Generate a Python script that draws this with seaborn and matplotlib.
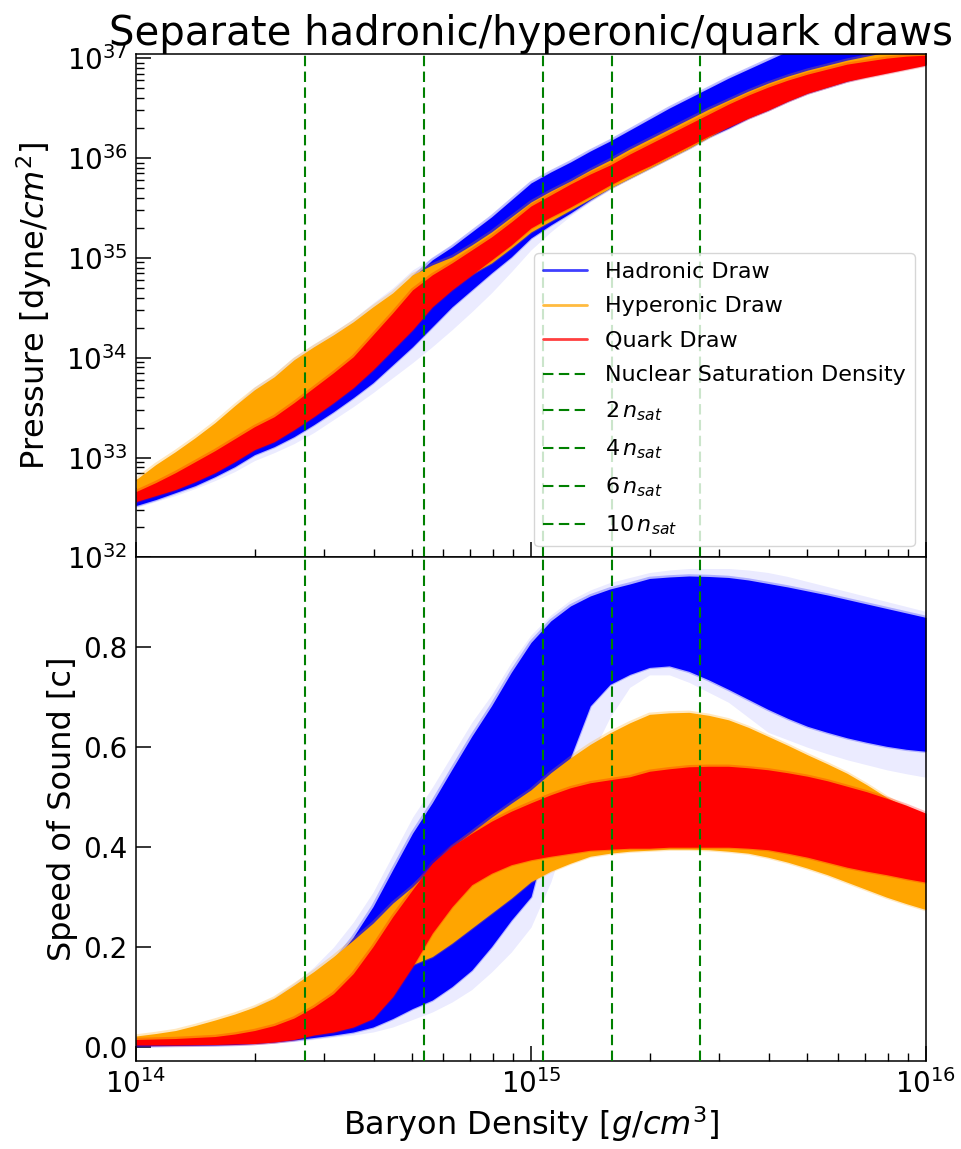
import matplotlib
matplotlib.use("Agg")
import matplotlib.pyplot as plt
from matplotlib.lines import Line2D
import numpy as np
import pandas as pd
import seaborn as sns

LOG_RHO = [14.00, 14.05, 14.10, 14.15, 14.20, 14.25, 14.30, 14.35, 14.40, 14.45,
           14.50, 14.55, 14.60, 14.65, 14.70, 14.75, 14.80, 14.85, 14.90, 14.95,
           15.00, 15.05, 15.10, 15.15, 15.20, 15.25, 15.30, 15.35, 15.40, 15.45,
           15.50, 15.55, 15.60, 15.65, 15.70, 15.75, 15.80, 15.85, 15.90, 15.95, 16.00]

# log10 pressure envelopes [dyne/cm^2]
LOGP_HADRON_HI = [32.66, 32.75, 32.85, 32.96, 33.07, 33.19, 33.31, 33.41, 33.55, 33.70,
                  33.85, 34.01, 34.23, 34.45, 34.80, 34.98, 35.11, 35.26, 35.41, 35.58,
                  35.75, 35.86, 35.96, 36.07, 36.17, 36.28, 36.39, 36.50, 36.60, 36.70,
                  36.80, 36.89, 36.98, 37.07, 37.16, 37.25, 37.33, 37.42, 37.50, 37.58, 37.65]
LOGP_HADRON_LO = [32.52, 32.58, 32.65, 32.72, 32.81, 32.91, 33.03, 33.11, 33.21, 33.33,
                  33.46, 33.60, 33.75, 33.93, 34.11, 34.31, 34.51, 34.68, 34.85, 35.01,
                  35.20, 35.33, 35.45, 35.58, 35.70, 35.80, 35.90, 36.00, 36.10, 36.21,
                  36.30, 36.40, 36.48, 36.57, 36.65, 36.71, 36.77, 36.82, 36.86, 36.90, 36.94]
LOGP_HADRON_FAINT_HI = [32.78, 32.93, 33.06, 33.20, 33.35, 33.52, 33.71, 33.84, 34.01, 34.14,
                        34.26, 34.39, 34.55, 34.70, 34.88, 35.00, 35.13, 35.27, 35.42, 35.59,
                        35.76, 35.87, 35.97, 36.08, 36.18, 36.29, 36.40, 36.51, 36.61, 36.71,
                        36.81, 36.90, 36.99, 37.08, 37.17, 37.26, 37.34, 37.43, 37.51, 37.59, 37.66]
LOGP_HADRON_FAINT_LO = [32.50, 32.56, 32.62, 32.69, 32.77, 32.86, 32.97, 33.05, 33.14, 33.25,
                        33.38, 33.51, 33.65, 33.80, 33.95, 34.11, 34.28, 34.46, 34.65, 34.86,
                        35.08, 35.26, 35.42, 35.56, 35.68, 35.80, 35.90, 36.00, 36.10, 36.21,
                        36.30, 36.40, 36.48, 36.57, 36.65, 36.71, 36.77, 36.82, 36.86, 36.90, 36.94]
LOGP_HYPERON_HI = [32.78, 32.93, 33.06, 33.20, 33.35, 33.52, 33.68, 33.81, 33.98, 34.11,
                   34.23, 34.36, 34.51, 34.65, 34.83, 34.93, 35.01, 35.13, 35.26, 35.41,
                   35.56, 35.67, 35.77, 35.88, 35.98, 36.09, 36.19, 36.29, 36.39, 36.49,
                   36.58, 36.67, 36.75, 36.82, 36.88, 36.93, 36.98, 37.02, 37.06, 37.09, 37.12]
LOGP_HYPERON_LO = [32.60, 32.66, 32.72, 32.80, 32.89, 33.00, 33.12, 33.20, 33.32, 33.45,
                   33.60, 33.75, 33.93, 34.13, 34.33, 34.55, 34.70, 34.84, 34.95, 35.10,
                   35.26, 35.37, 35.48, 35.59, 35.70, 35.80, 35.90, 36.00, 36.10, 36.21,
                   36.32, 36.41, 36.49, 36.58, 36.66, 36.72, 36.78, 36.83, 36.87, 36.91, 36.95]
LOGP_QUARK_HI = [32.66, 32.75, 32.85, 32.96, 33.07, 33.19, 33.31, 33.41, 33.55, 33.70,
                 33.85, 34.01, 34.23, 34.45, 34.68, 34.83, 34.95, 35.08, 35.21, 35.36,
                 35.52, 35.63, 35.74, 35.84, 35.93, 36.04, 36.14, 36.24, 36.34, 36.44,
                 36.54, 36.63, 36.71, 36.78, 36.84, 36.89, 36.94, 36.97, 37.00, 37.02, 37.03]
LOGP_QUARK_LO = [32.56, 32.62, 32.68, 32.76, 32.85, 32.96, 33.08, 33.16, 33.28, 33.41,
                 33.55, 33.70, 33.88, 34.08, 34.28, 34.51, 34.68, 34.83, 34.98, 35.13,
                 35.30, 35.41, 35.51, 35.62, 35.73, 35.83, 35.92, 36.02, 36.12, 36.22,
                 36.31, 36.40, 36.48, 36.57, 36.65, 36.71, 36.77, 36.81, 36.85, 36.89, 36.93]

# speed of sound envelopes [c]
CS_HADRON_HI = [0.010, 0.011, 0.012, 0.014, 0.016, 0.020, 0.025, 0.040, 0.060, 0.120,
                0.170, 0.220, 0.281, 0.355, 0.428, 0.489, 0.556, 0.622, 0.683, 0.750,
                0.810, 0.853, 0.883, 0.903, 0.917, 0.927, 0.938, 0.941, 0.943, 0.942,
                0.940, 0.935, 0.928, 0.921, 0.913, 0.905, 0.896, 0.887, 0.878, 0.869, 0.860]
CS_HADRON_LO = [0.002, 0.0025, 0.003, 0.0035, 0.004, 0.005, 0.007, 0.010, 0.014, 0.019,
                0.024, 0.030, 0.040, 0.057, 0.077, 0.094, 0.121, 0.154, 0.201, 0.254,
                0.301, 0.450, 0.580, 0.683, 0.726, 0.746, 0.760, 0.763, 0.752, 0.735,
                0.716, 0.696, 0.676, 0.658, 0.642, 0.630, 0.619, 0.610, 0.602, 0.596, 0.592]
CS_HADRON_FAINT_HI = [0.012, 0.014, 0.018, 0.030, 0.045, 0.060, 0.082, 0.100, 0.128, 0.160,
                      0.200, 0.250, 0.310, 0.385, 0.460, 0.520, 0.585, 0.650, 0.705, 0.770,
                      0.825, 0.865, 0.895, 0.915, 0.930, 0.940, 0.950, 0.955, 0.958, 0.958,
                      0.958, 0.955, 0.950, 0.942, 0.932, 0.922, 0.912, 0.902, 0.892, 0.882, 0.872]
CS_HADRON_FAINT_LO = [0.002, 0.0025, 0.003, 0.0035, 0.004, 0.005, 0.006, 0.008, 0.011, 0.015,
                      0.020, 0.024, 0.030, 0.040, 0.055, 0.070, 0.090, 0.115, 0.150, 0.190,
                      0.240, 0.330, 0.450, 0.580, 0.660, 0.720, 0.745, 0.745, 0.730, 0.710,
                      0.690, 0.660, 0.630, 0.615, 0.600, 0.587, 0.575, 0.565, 0.555, 0.547, 0.540]
CS_HYPERON_HI = [0.022, 0.027, 0.033, 0.043, 0.054, 0.066, 0.080, 0.098, 0.124, 0.151,
                 0.181, 0.214, 0.248, 0.288, 0.321, 0.360, 0.400, 0.430, 0.460, 0.488,
                 0.515, 0.549, 0.579, 0.606, 0.629, 0.649, 0.666, 0.669, 0.670, 0.664,
                 0.655, 0.640, 0.622, 0.604, 0.585, 0.567, 0.548, 0.525, 0.500, 0.480, 0.460]
CS_HYPERON_LO = [0.008, 0.009, 0.010, 0.011, 0.012, 0.014, 0.016, 0.020, 0.025, 0.035,
                 0.050, 0.070, 0.100, 0.135, 0.165, 0.181, 0.208, 0.238, 0.268, 0.298,
                 0.331, 0.352, 0.368, 0.382, 0.388, 0.392, 0.394, 0.396, 0.396, 0.395,
                 0.392, 0.388, 0.380, 0.370, 0.358, 0.345, 0.330, 0.315, 0.300, 0.287, 0.275]
CS_QUARK_HI = [0.015, 0.016, 0.017, 0.019, 0.021, 0.026, 0.033, 0.043, 0.058, 0.080,
               0.107, 0.147, 0.201, 0.261, 0.315, 0.368, 0.402, 0.428, 0.452, 0.472,
               0.489, 0.505, 0.519, 0.529, 0.535, 0.541, 0.552, 0.557, 0.561, 0.562,
               0.562, 0.559, 0.555, 0.549, 0.542, 0.533, 0.522, 0.511, 0.498, 0.484, 0.468]
CS_QUARK_LO = [0.004, 0.004, 0.004, 0.0045, 0.005, 0.006, 0.007, 0.010, 0.015, 0.024,
               0.030, 0.040, 0.057, 0.101, 0.161, 0.228, 0.281, 0.325, 0.348, 0.365,
               0.375, 0.382, 0.388, 0.394, 0.396, 0.398, 0.398, 0.400, 0.400, 0.400,
               0.400, 0.398, 0.395, 0.388, 0.380, 0.370, 0.360, 0.352, 0.345, 0.337, 0.330]

NSAT = 2.68e14
NSAT_MULTIPLES = [1, 2, 4, 6, 10]
NSAT_LABELS = ["Nuclear Saturation Density", r"2$\,n_{sat}$", r"4$\,n_{sat}$",
               r"6$\,n_{sat}$", r"10$\,n_{sat}$"]

MODELS = ["Hadronic Draw", "Hyperonic Draw", "Quark Draw"]
COLORS = {"Hadronic Draw": "blue", "Hyperonic Draw": "orange", "Quark Draw": "red"}


def _band(model, panel, lo, hi, log=False):
    lo, hi = np.asarray(lo, dtype=float), np.asarray(hi, dtype=float)
    if log:
        lo, hi = 10 ** lo, 10 ** hi
    return pd.DataFrame({"rho": 10 ** np.asarray(LOG_RHO), "model": model,
                         "panel": panel, "lo": lo, "hi": hi})


bands = pd.concat([
    _band("Hadronic Draw", "P", LOGP_HADRON_LO, LOGP_HADRON_HI, log=True),
    _band("Hyperonic Draw", "P", LOGP_HYPERON_LO, LOGP_HYPERON_HI, log=True),
    _band("Quark Draw", "P", LOGP_QUARK_LO, LOGP_QUARK_HI, log=True),
    _band("Hadronic Draw", "cs", CS_HADRON_LO, CS_HADRON_HI),
    _band("Hyperonic Draw", "cs", CS_HYPERON_LO, CS_HYPERON_HI),
    _band("Quark Draw", "cs", CS_QUARK_LO, CS_QUARK_HI),
], ignore_index=True)

faint = pd.concat([
    _band("Hadronic Draw", "P", LOGP_HADRON_FAINT_LO, LOGP_HADRON_FAINT_HI, log=True),
    _band("Hadronic Draw", "cs", CS_HADRON_FAINT_LO, CS_HADRON_FAINT_HI),
], ignore_index=True)

sns.set_theme(style="ticks")
plt.rcParams["font.family"] = ["DejaVu Sans"]
plt.rcParams["mathtext.fontset"] = "dejavusans"

fig, (ax1, ax2) = plt.subplots(2, 1, figsize=(9.61, 11.49), dpi=100, sharex=True)
fig.subplots_adjust(left=0.1415, right=0.9636, top=0.953, bottom=0.0766, hspace=0)

ax1.set_xscale("log")
ax1.set_yscale("log")

for ax, panel in [(ax1, "P"), (ax2, "cs")]:
    f = faint[faint["panel"] == panel]
    ax.fill_between(f["rho"], f["lo"], f["hi"], color="blue", alpha=0.08, lw=0, zorder=0.9)
    for i, model in enumerate(MODELS):
        d = bands[(bands["panel"] == panel) & (bands["model"] == model)]
        c = COLORS[model]
        z = 1 + 0.1 * i
        ax.fill_between(d["rho"], d["lo"], d["hi"], color=c, lw=0, zorder=z)
        # soft fringe of the many semi-transparent draws
        edges = d.melt(id_vars="rho", value_vars=["lo", "hi"], var_name="edge")
        sns.lineplot(data=edges, x="rho", y="value", units="edge", estimator=None,
                     color=c, lw=2.5, alpha=0.25, ax=ax, legend=False, zorder=z + 0.05)
    for m in NSAT_MULTIPLES:
        ax.axvline(m * NSAT, color="green", ls="--", lw=1.5, dashes=(5, 2.6), zorder=3)

ax1.set_xlim(1e14, 1e16)
ax1.set_ylim(1e32, 1.1e37)
ax2.set_ylim(-0.028, 0.98)

for ax in (ax1, ax2):
    ax.tick_params(which="both", direction="in", labelsize=20, colors="black")
    ax.tick_params(which="major", length=11, width=1.1, pad=6)
    ax.tick_params(which="minor", length=6, width=1.0)
    for s in ax.spines.values():
        s.set_color("black")
        s.set_linewidth(1.1)

ax1.set_title("Separate hadronic/hyperonic/quark draws", fontsize=29, color="black")
ax1.set_ylabel(r"Pressure [dyne/$cm^2$]", fontsize=23, color="black", labelpad=9)
ax1.set_xlabel("")
ax2.set_ylabel("Speed of Sound [c]", fontsize=23, color="black")
ax2.set_xlabel(r"Baryon Density [$g/cm^3$]", fontsize=23, color="black")

handles = [Line2D([0], [0], color=COLORS[m], lw=2, alpha=0.75) for m in MODELS]
handles += [Line2D([0], [0], color="green", ls="--", lw=1.5, dashes=(5, 2.6)) for _ in NSAT_MULTIPLES]
leg = ax1.legend(handles, MODELS + NSAT_LABELS, loc="lower right", fontsize=16,
                 labelspacing=0.65, labelcolor="black")
leg.set_zorder(5)

plt.savefig("out.png", dpi=100)
plt.close()
